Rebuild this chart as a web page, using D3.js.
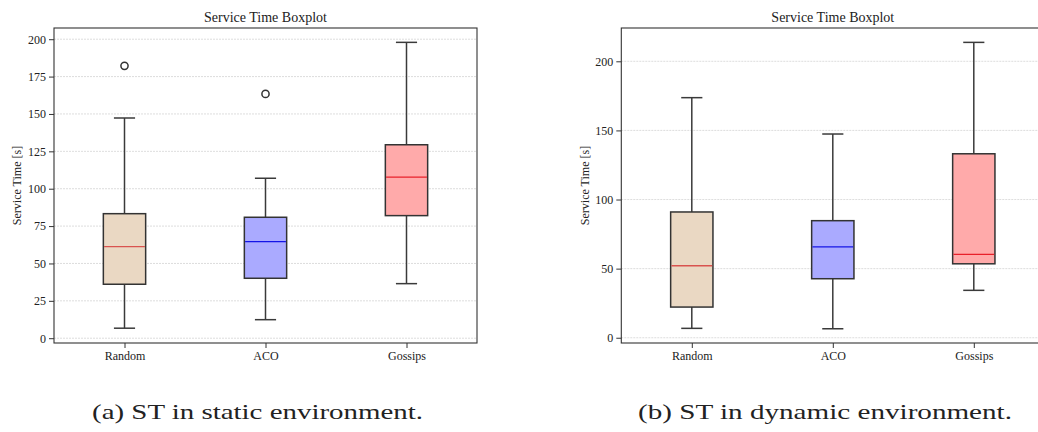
<!DOCTYPE html>
<html>
<head>
<meta charset="utf-8">
<script src="https://cdn.jsdelivr.net/npm/d3@7"></script>
<style>
  body { margin: 0; background: #fff; }
  svg { display: block; }
  text { font-family: "Liberation Serif", "Times New Roman", serif; }
  .axis text { font-size: 12px; fill: #222; }
  .axis line { stroke: #333; }
  .grid-line { stroke: #d4d4d4; stroke-width: 0.8; stroke-dasharray: 2,1; }
</style>
</head>
<body>
<svg id="figure"></svg>
<script>
// categories / box statistics
const categories = ['Random', 'ACO', 'Gossips'];

const staticLow = [6.7, 12.4, 36.5];
const staticQ1 = [36.1, 40.1, 82.0];
const staticMedian = [61.2, 64.6, 107.8];
const staticQ3 = [83.3, 80.9, 129.4];
const staticHigh = [147.3, 107.0, 197.9];
const staticOutliers = [[182.2], [163.4], []];
const staticTicks = [0, 25, 50, 75, 100, 125, 150, 175, 200];

const dynamicLow = [6.8, 6.5, 34.3];
const dynamicQ1 = [22.2, 42.7, 53.5];
const dynamicMedian = [52.1, 65.8, 60.3];
const dynamicQ3 = [91.0, 84.7, 133.1];
const dynamicHigh = [173.7, 147.4, 213.7];
const dynamicOutliers = [[], [], []];
const dynamicTicks = [0, 50, 100, 150, 200];

const fills = ['#ead8c3', '#aaaaff', '#ffaaaa'];
const medianColors = ['#d9534f', '#1414e6', '#e8202a'];

function buildRows(low, q1, med, q3, high, outl) {
    return categories.map((c, i) => ({
        name: c, low: low[i], q1: q1[i], median: med[i], q3: q3[i], high: high[i], outliers: outl[i]
    }));
}

class boxPanel {
    constructor(_config, _data) {
        this.config = {
            svg: _config.svg,
            left: _config.left,
            top: _config.top || 28,
            width: _config.width || 423,
            height: _config.height || 315,
            yDomain: _config.yDomain,
            ticks: _config.ticks,
            title: _config.title,
            yLabelX: _config.yLabelX,
            caption: _config.caption,
            captionX: _config.captionX,
            captionWidth: _config.captionWidth
        };
        this.data = _data;
        this.initPanel();
    }
    initPanel() {
        let p = this;
        let c = p.config;
        p.g = c.svg.append('g').attr('transform', `translate(${c.left},${c.top})`);
        p.xScale = d3.scalePoint().domain(categories).range([0, c.width]).padding(0.5);
        p.yScale = d3.scaleLinear().domain(c.yDomain).range([c.height, 0]);
        p.boxW = p.xScale.step() * 0.3;
        p.renderPanel();
    }
    renderPanel() {
        let p = this;
        let c = p.config;
        let x = p.xScale, y = p.yScale;

        // grid
        p.g.append('g').selectAll('line').data(c.ticks).join('line')
            .attr('class', 'grid-line')
            .attr('x1', 0).attr('x2', c.width)
            .attr('y1', d => y(d)).attr('y2', d => y(d));

        // boxes
        let box = p.g.append('g').selectAll('g').data(p.data).join('g')
            .attr('transform', d => `translate(${x(d.name)},0)`);

        box.append('line')
            .attr('x1', 0).attr('x2', 0)
            .attr('y1', d => y(d.q3)).attr('y2', d => y(d.high))
            .attr('stroke', '#3a3a3a').attr('stroke-width', 1.5);
        box.append('line')
            .attr('x1', 0).attr('x2', 0)
            .attr('y1', d => y(d.q1)).attr('y2', d => y(d.low))
            .attr('stroke', '#3a3a3a').attr('stroke-width', 1.5);
        box.selectAll('.cap').data(d => [d.low, d.high]).join('line')
            .attr('class', 'cap')
            .attr('x1', -p.boxW / 4).attr('x2', p.boxW / 4)
            .attr('y1', d => y(d)).attr('y2', d => y(d))
            .attr('stroke', '#3a3a3a').attr('stroke-width', 1.5);
        box.append('rect')
            .attr('x', -p.boxW / 2).attr('width', p.boxW)
            .attr('y', d => y(d.q3)).attr('height', d => y(d.q1) - y(d.q3))
            .attr('fill', (d, i) => fills[i])
            .attr('stroke', '#333').attr('stroke-width', 1.5);
        box.append('line')
            .attr('x1', -p.boxW / 2 + 0.75).attr('x2', p.boxW / 2 - 0.75)
            .attr('y1', d => y(d.median)).attr('y2', d => y(d.median))
            .attr('stroke', (d, i) => medianColors[i]).attr('stroke-width', 1.3);
        box.selectAll('circle').data(d => d.outliers).join('circle')
            .attr('cx', 0).attr('cy', d => y(d)).attr('r', 3.6)
            .attr('fill', 'none').attr('stroke', '#333').attr('stroke-width', 1.5);

        // axes
        let yAxis = d3.axisLeft(y).tickValues(c.ticks).tickSize(5).tickPadding(3).tickFormat(d3.format('d'));
        let xAxis = d3.axisBottom(x).tickSize(5).tickPadding(3);
        p.g.append('g').attr('class', 'axis').call(yAxis).call(g => g.select('.domain').remove());
        p.g.append('g').attr('class', 'axis').attr('transform', `translate(0,${c.height})`)
            .call(xAxis).call(g => g.select('.domain').remove());

        // frame
        p.g.append('rect').attr('width', c.width).attr('height', c.height)
            .attr('fill', 'none').attr('stroke', '#333').attr('stroke-width', 1.1);

        // title + y label
        p.g.append('text').attr('x', c.width / 2).attr('y', -6)
            .attr('text-anchor', 'middle').style('font-size', '14px').attr('fill', '#222')
            .text(c.title);
        p.g.append('text')
            .attr('transform', `translate(${c.yLabelX},${c.height / 2}) rotate(-90)`)
            .attr('text-anchor', 'middle').attr('dy', '0.35em')
            .style('font-size', '12px').attr('fill', '#222')
            .text('Service Time [s]');

        // caption
        c.svg.append('text').attr('x', c.captionX).attr('y', 419)
            .attr('textLength', c.captionWidth).attr('lengthAdjust', 'spacingAndGlyphs')
            .style('font-size', '22px').attr('fill', '#222')
            .text(c.caption);
    }
}

const svg = d3.select('#figure').attr('width', 1038).attr('height', 432);

new boxPanel({
    svg: svg, left: 54, yDomain: [-3.2, 207.5], ticks: staticTicks,
    title: 'Service Time Boxplot', yLabelX: -37,
    caption: '(a) ST in static environment.', captionX: 92, captionWidth: 331
}, buildRows(staticLow, staticQ1, staticMedian, staticQ3, staticHigh, staticOutliers));

new boxPanel({
    svg: svg, left: 621.3, yDomain: [-3.8, 224.1], ticks: dynamicTicks,
    title: 'Service Time Boxplot', yLabelX: -37,
    caption: '(b) ST in dynamic environment.', captionX: 638, captionWidth: 374
}, buildRows(dynamicLow, dynamicQ1, dynamicMedian, dynamicQ3, dynamicHigh, dynamicOutliers));
</script>
</body>
</html>
